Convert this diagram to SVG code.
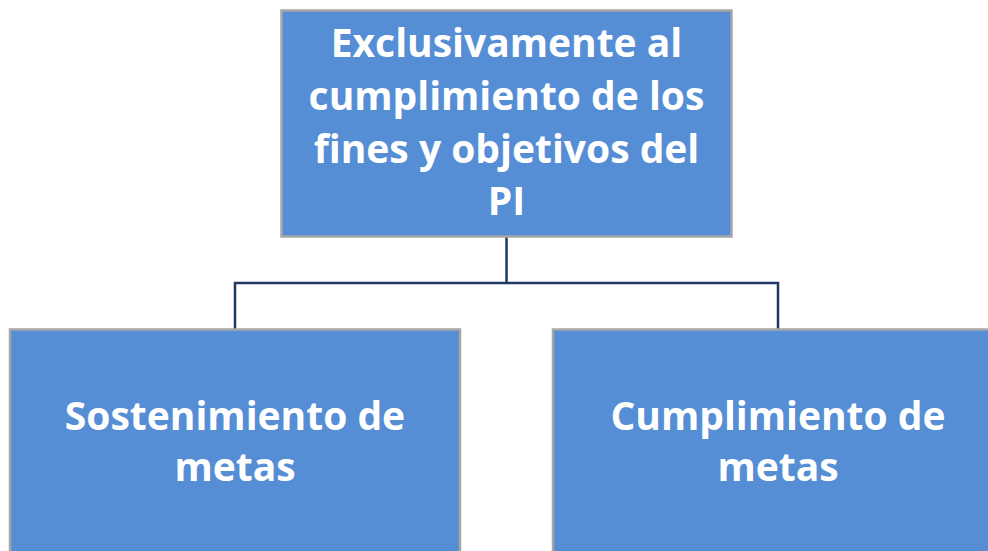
<svg xmlns="http://www.w3.org/2000/svg" width="988" height="551" viewBox="0 0 988 551">
<style>
.box{fill:#558ed5;stroke:#a6a6a6;stroke-width:2.5}
.t{font-family:"Open Sans","Noto Sans","DejaVu Sans",sans-serif;font-weight:bold;font-size:39px;fill:#ffffff;text-anchor:middle}
.c{fill:none;stroke:#1f3864;stroke-width:2.5}
</style>
<rect width="988" height="551" fill="#ffffff"/>
<g id="connectors">
<path class="c" d="M506.5 237 V283 H235 V329"/>
<path class="c" d="M506.5 283 H778 V329"/>
</g>
<g id="top">
<rect class="box" x="281.5" y="10.5" width="450" height="226"/>
<text class="t" x="506.5" y="57">Exclusivamente al</text>
<text class="t" x="506.5" y="110">cumplimiento de los</text>
<text class="t" x="506.5" y="163">fines y objetivos del</text>
<text class="t" x="506.5" y="215">PI</text>
</g>
<g id="left">
<rect class="box" x="10" y="329.5" width="450" height="240"/>
<text class="t" x="235" y="430">Sostenimiento de</text>
<text class="t" x="235" y="481">metas</text>
</g>
<g id="right">
<rect class="box" x="553" y="329.5" width="450" height="240"/>
<text class="t" x="778" y="430">Cumplimiento de</text>
<text class="t" x="778" y="481">metas</text>
</g>
</svg>
